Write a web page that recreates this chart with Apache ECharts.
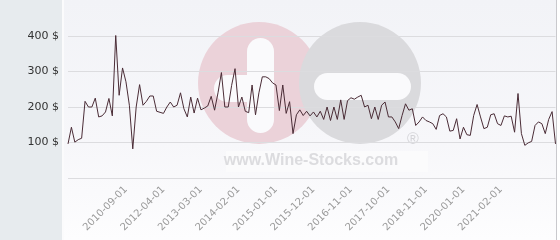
<!DOCTYPE html>
<html>
<head>
<meta charset="utf-8">
<script src="https://cdn.jsdelivr.net/npm/echarts@6/dist/echarts.min.js"></script>
<style>
html,body{margin:0;padding:0;width:560px;height:240px;overflow:hidden;background:#fff;}
#wrap{position:relative;width:560px;height:240px;}
.bg{position:absolute;top:0;height:240px;}
#chart{position:absolute;left:0;top:0;width:560px;height:240px;}
</style>
</head>
<body>
<div id="wrap">
  <div class="bg" style="left:0;width:62px;background:#e7ebee;"></div>
  <div class="bg" style="left:62px;width:2px;background:#fbfbfc;"></div>
  <div class="bg" style="left:64px;width:492px;background:linear-gradient(to bottom,#f2f3f7 0%,#f7f7fa 60%,#fdfdfe 100%);"></div>
  <div class="bg" style="left:556px;width:1px;background:#c9c9cd;"></div>
  <div id="chart"></div>
</div>
<script>
var dates = [
'2009-04-01','2009-05-01','2009-06-01','2009-07-01','2009-08-01','2009-09-01','2009-10-01','2009-11-01','2009-12-01',
'2010-01-01','2010-02-01','2010-03-01','2010-04-01','2010-05-01','2010-06-01','2010-07-01','2010-08-01',
'2010-09-01',
'2010-11-01','2011-01-01','2011-03-01','2011-05-01','2011-07-01','2011-09-01','2011-11-01','2012-01-01','2012-02-01','2012-03-01',
'2012-04-01','2012-05-01','2012-06-01','2012-07-01','2012-08-01','2012-09-01','2012-10-01','2012-11-01','2012-12-01',
'2013-01-01','2013-02-01','2013-03-01','2013-04-01','2013-05-01','2013-06-01','2013-07-01','2013-08-01','2013-09-01','2013-10-01','2013-11-01','2013-12-01',
'2014-01-01','2014-02-01','2014-03-01','2014-04-01','2014-05-01','2014-06-01','2014-07-01','2014-08-01','2014-09-01','2014-10-01','2014-11-01','2014-12-01',
'2015-01-01','2015-02-01','2015-03-01','2015-04-01','2015-05-01','2015-06-01','2015-07-01','2015-08-01','2015-09-01','2015-10-01','2015-11-01','2015-12-01',
'2016-01-01','2016-02-01','2016-03-01','2016-04-01','2016-05-01','2016-06-01','2016-07-01','2016-08-01','2016-09-01','2016-10-01','2016-11-01','2016-12-01',
'2017-01-01','2017-02-01','2017-03-01','2017-04-01','2017-05-01','2017-06-01','2017-07-01','2017-08-01','2017-09-01','2017-10-01',
'2017-11-01','2017-12-01','2018-01-01','2018-03-01','2018-04-01','2018-05-01','2018-06-01','2018-07-01','2018-09-01','2018-10-01',
'2018-11-01',
'2018-12-01','2019-01-01','2019-03-01','2019-04-01','2019-05-01','2019-07-01','2019-08-01','2019-09-01','2019-11-01','2019-12-01',
'2020-01-01',
'2020-02-01','2020-03-01','2020-05-01','2020-06-01','2020-07-01','2020-08-01','2020-09-01','2020-10-01','2020-12-01','2021-01-01',
'2021-02-01',
'2021-03-01','2021-04-01','2021-05-01','2021-06-01','2021-07-01','2021-08-01','2021-09-01','2021-10-01','2021-11-01','2021-12-01',
'2022-01-01','2022-02-01','2022-03-01','2022-04-01','2022-05-01','2022-06-01'
];
var prices = [
96,143,101,108,112,216,200,200,225,172,
175,186,224,175,403,233,310,271,205,82,
200,263,205,216,231,231,188,185,182,200,
214,200,205,240,195,172,228,183,225,192,
197,203,230,191,240,297,200,200,261,308,
200,228,188,184,262,178,240,285,285,280,
268,262,190,262,182,215,125,178,192,176,
188,175,186,172,188,165,200,162,200,165,
220,165,218,226,222,228,233,200,205,167,
200,165,205,214,172,172,158,139,176,209,
191,195,148,158,172,162,158,153,137,176,
181,172,132,134,167,110,143,122,120,176,
207,172,139,143,178,181,153,148,175,172,
174,129,238,125,92,99,103,148,158,153,
125,165,187,96
];
var tickLabels = ['2010-09-01','2012-04-01','2013-03-01','2014-02-01','2015-01-01','2015-12-01','2016-11-01','2017-10-01','2018-11-01','2020-01-01','2021-02-01'];
var yTicks = [0,100,200,300,400];

var chart = echarts.init(document.getElementById('chart'), null, {renderer:'canvas'});
var wm = '#fafafc';
chart.setOption({
  backgroundColor: 'transparent',
  animation: false,
  grid: {left: 68, right: 4.5, top: 36, bottom: 62},
  graphic: [
    {type:'circle', z:-10, shape:{cx:259, cy:83, r:61}, style:{fill:'#ebd2d9'}, silent:true},
    {type:'circle', z:-10, shape:{cx:360, cy:83, r:61}, style:{fill:'#dadadd'}, silent:true},
    {type:'rect', z:-9, shape:{x:214, y:75, width:48, height:27, r:13.5}, style:{fill:wm}, silent:true},
    {type:'rect', z:-9, shape:{x:247, y:38, width:27, height:95, r:13.5}, style:{fill:wm}, silent:true},
    {type:'rect', z:-9, shape:{x:314, y:73, width:97, height:27, r:13.5}, style:{fill:wm}, silent:true},
    {type:'rect', z:-9, shape:{x:226, y:151, width:202, height:21}, style:{fill:'#fbfbfc'}, silent:true},
    {type:'text', z:-8, style:{text:'www.Wine-Stocks.com', x:311, y:161, align:'center', verticalAlign:'middle', font:'bold 16px "Liberation Sans", Arial, sans-serif', fill:'#dcdcdf'}, silent:true},
    {type:'text', z:-8, style:{text:'®', x:413, y:140, align:'center', verticalAlign:'middle', font:'16px "Liberation Sans", Arial, sans-serif', fill:'#d4d4d8'}, silent:true}
  ],
  xAxis: {
    type: 'category',
    data: dates,
    boundaryGap: false,
    axisLine: {show:false},
    axisTick: {show:false},
    splitLine: {show:false},
    axisLabel: {
      interval: function(idx, val){ return tickLabels.indexOf(val) >= 0; },
      rotate: 45,
      margin: 10,
      color: '#9a9a9a',
      fontSize: 10,
      fontFamily: 'DejaVu Sans'
    }
  },
  yAxis: {
    type: 'value',
    min: yTicks[0],
    max: yTicks[yTicks.length-1],
    interval: 100,
    axisLine: {show:false},
    axisTick: {show:false},
    splitLine: {show:true, lineStyle:{color:'#dcdcdf', width:1}},
    axisLabel: {
      showMinLabel: false,
      formatter: function(v){ return v === 0 ? '' : v + ' $'; },
      margin: 9,
      color: '#333333',
      fontSize: 11,
      fontFamily: 'DejaVu Sans'
    }
  },
  series: [{
    type: 'line',
    data: prices,
    symbol: 'none',
    lineStyle: {color:'#4a2c36', width:1},
    z: 5
  }]
});
</script>
</body>
</html>
